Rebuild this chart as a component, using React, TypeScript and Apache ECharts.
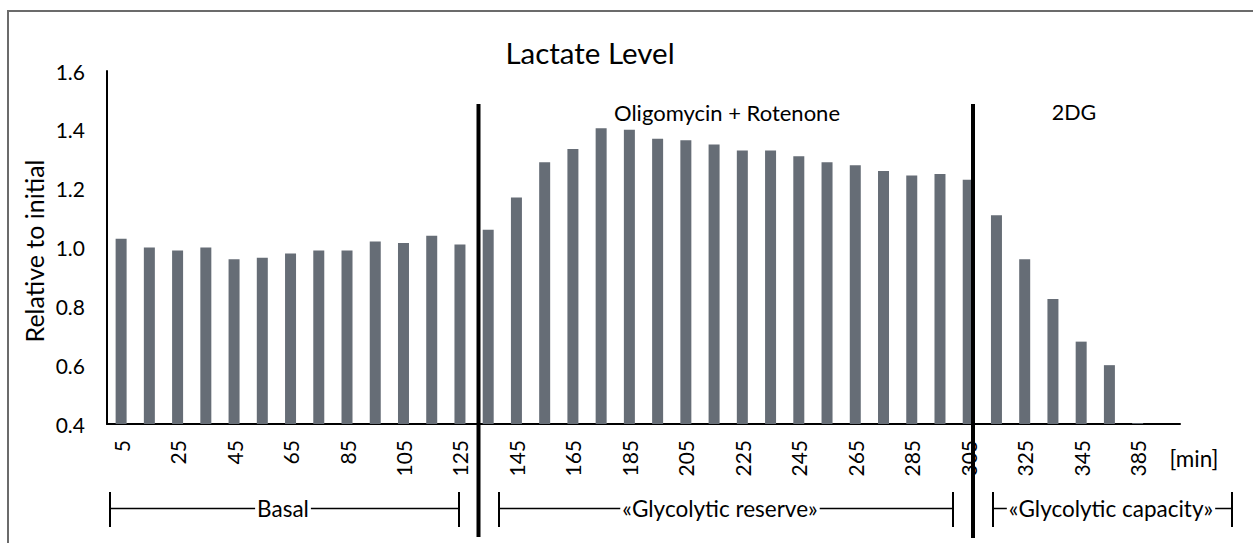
import React, { useEffect, useRef } from "react";
import * as echarts from "echarts";

const timeLabels = [
  "5", "15", "25", "35", "45", "55", "65", "75", "85", "95", "105", "115", "125",
  "135", "145", "155", "165", "175", "185", "195", "205", "215", "225", "235", "245",
  "255", "265", "275", "285", "295", "305", "315", "325", "335", "345", "365", "385", "",
];

const lactate = [
  1.03, 1.0, 0.99, 1.0, 0.96, 0.965, 0.98, 0.99, 0.99, 1.02, 1.015, 1.04, 1.01,
  1.06, 1.17, 1.29, 1.335, 1.405, 1.4, 1.37, 1.365, 1.35, 1.33, 1.33, 1.31,
  1.29, 1.28, 1.26, 1.245, 1.25, 1.23, 1.11, 0.96, 0.825, 0.68, 0.6, 0.403, null,
];

const yMin = 0.4;
const yMax = 1.6;
const yStep = 0.2;

const FONT = "Lato";
const BAR = "#666d76";

export default function App() {
  const ref = useRef<HTMLDivElement>(null);
  useEffect(() => {
    document.body.style.margin = "0";
    const chart = echarts.init(ref.current!, null, { renderer: "svg" });

    const txt = (x: number, y: number, text: string, size: number, extra: any = {}, rotation = 0) => ({
      type: "text",
      x,
      y,
      rotation,
      style: {
        text,
        fontFamily: FONT,
        fontSize: size,
        fill: "#000",
        align: "center",
        verticalAlign: "middle",
        ...extra,
      },
      z: 10,
    });
    const ln = (x1: number, y1: number, x2: number, y2: number, w: number) => ({
      type: "line",
      shape: { x1, y1, x2, y2 },
      style: { stroke: "#000", lineWidth: w },
      z: 5,
    });
    const bracket = (x1: number, x2: number, label: string, cx: number) => [
      ln(x1, 508.5, x2, 508.5, 1.5),
      ln(x1, 492, x1, 527, 2),
      ln(x2, 492, x2, 527, 2),
      txt(cx, 508, label, 22.5, { backgroundColor: "#fff", padding: [0, 2] }),
    ];

    chart.setOption({
      animation: false,
      backgroundColor: "#fff",
      grid: { left: 107, top: 71, right: 73, bottom: 119, containLabel: false },
      xAxis: {
        type: "category",
        data: timeLabels,
        axisLine: { lineStyle: { color: "#000", width: 2 } },
        axisTick: { show: false },
        axisLabel: {
          interval: 1,
          rotate: 90,
          margin: 16,
          fontFamily: FONT,
          fontSize: 21,
          color: "#000",
        },
      },
      yAxis: {
        type: "value",
        min: yMin,
        max: yMax,
        interval: yStep,
        axisLine: { show: true, lineStyle: { color: "#000", width: 2 } },
        axisTick: { show: false },
        splitLine: { show: false },
        axisLabel: {
          margin: 22,
          fontFamily: FONT,
          fontSize: 21,
          color: "#000",
          formatter: (v: number) => v.toFixed(1),
        },
      },
      series: [
        {
          type: "bar",
          data: lactate,
          barWidth: 11,
          itemStyle: { color: BAR },
        },
      ],
      graphic: [
        {
          type: "rect",
          shape: { x: 8, y: 11, width: 1300, height: 600 },
          style: { fill: "none", stroke: "#6b6b6b", lineWidth: 2 },
          z: 1,
        },
        txt(590, 52, "Lactate Level", 29.5),
        txt(34, 251, "Relative to initial", 25, {}, Math.PI / 2),
        txt(727, 112, "Oligomycin + Rotenone", 22),
        txt(1074, 112, "2DG", 21.5),
        txt(1194, 458, "[min]", 22.5),
        ln(478.5, 104, 478.5, 537, 4),
        ln(973, 104, 973, 538, 4),
        ...bracket(110, 459, "Basal", 283),
        ...bracket(499, 953, "«Glycolytic reserve»", 720),
        ...bracket(993, 1232, "«Glycolytic capacity»", 1111),
      ],
    });

    return () => chart.dispose();
  }, []);
  return <div ref={ref} style={{ width: 1253, height: 543 }} />;
}
